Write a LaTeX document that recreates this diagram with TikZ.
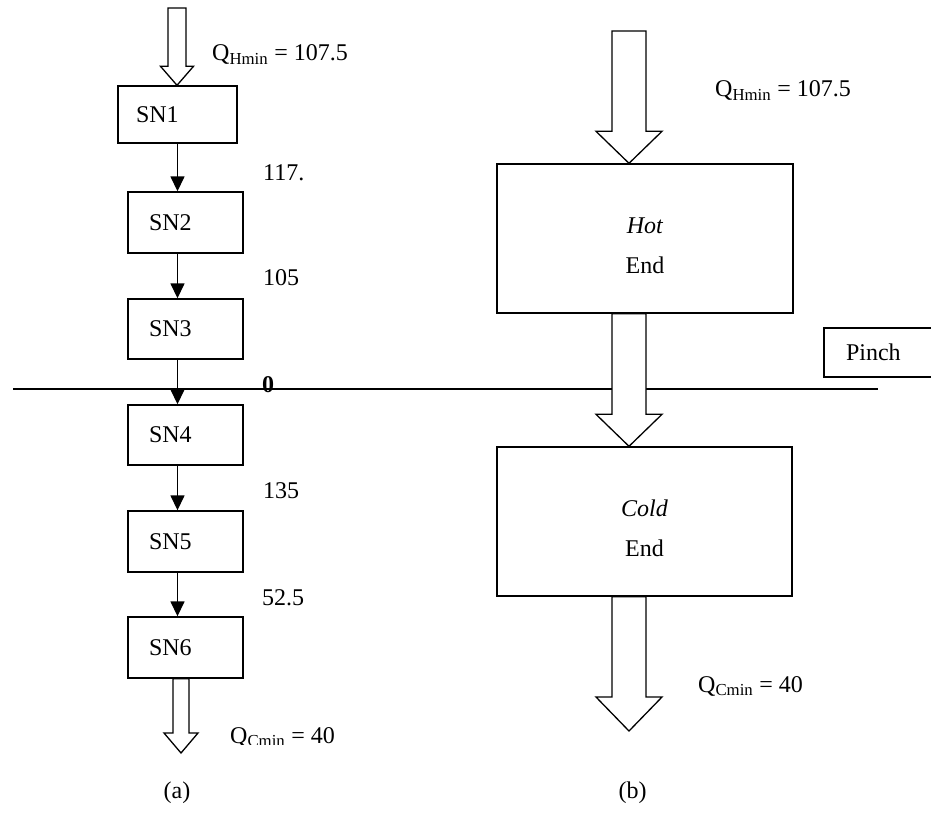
\documentclass[tikz,border=0pt]{standalone}
\usepackage{fontspec}
\setmainfont{Liberation Serif}
\usepackage{tikz}
\usetikzlibrary{arrows.meta,calc}
\definecolor{pen}{RGB}{0,0,0}
% hollow block arrow pointing down: tail, tip, half shaft, half head, head length
\def\fatarrow#1#2#3#4#5{%
  \draw[pen, line width=1.3pt, fill=white] let \p1=(#1), \p2=(#2) in
    (\x2,\y2) -- (\x2-#4pt,\y2+#5pt) -- (\x2-#3pt,\y2+#5pt) -- (\x2-#3pt,\y1)
    -- (\x2+#3pt,\y1) -- (\x2+#3pt,\y2+#5pt) -- (\x2+#4pt,\y2+#5pt) -- cycle;}

\begin{document}
\begin{tikzpicture}[x=1pt, y=-1pt, line join=miter,
    font=\fontsize{24}{29}\selectfont,
    snbox/.style={draw=pen, line width=1.4pt, minimum height=60pt,
                  text width=73pt, inner xsep=21pt, align=left},
    endbox/.style={draw=pen, line width=1.4pt, minimum width=296pt,
                   minimum height=149pt, align=center,
                   font=\fontsize{24}{40}\selectfont},
    flow/.style={draw=pen, line width=1.5pt, -{Triangle[length=15pt,width=14pt]}},
    value/.style={anchor=west, inner sep=0pt},
    qlabel/.style={anchor=base west, inner sep=0pt}]

  \useasboundingbox (0,0) rectangle (931,814);
  \clip (0,0) rectangle (931,814);

  %========= pinch line =========
  \coordinate (pinchL) at (13,389);
  \coordinate (pinchR) at (878,389);
  \draw[pen, line width=1.4pt] (pinchL) -- (pinchR);
  \node[font=\bfseries\fontsize{24}{29}\selectfont, inner sep=0pt] (zero) at (268,385) {0};
  \node[snbox, text width=93pt, inner xsep=22pt, minimum height=49pt] (pinch) at (892.5,352.5) {Pinch};

  %========= (a) subnetworks =========
  \node[snbox, text width=83pt, inner xsep=18pt, minimum height=57pt] (sn1) at (177.5,114.5) {SN1};
  \node[snbox, minimum height=61pt] (sn2) at (185.5,222.5) {SN2};
  \node[snbox] (sn3) at (185.5,329) {SN3};
  \node[snbox] (sn4) at (185.5,435) {SN4};
  \node[snbox, minimum height=61pt] (sn5) at (185.5,541.5) {SN5};
  \node[snbox, minimum height=61pt] (sn6) at (185.5,647.5) {SN6};

  \draw[flow] (sn1.south) -- (sn2.north -| sn1.south);
  \draw[flow] (sn2.south -| sn1.south) -- (sn3.north -| sn1.south);
  \draw[flow] (sn3.south -| sn1.south) -- (sn4.north -| sn1.south);
  \draw[flow] (sn4.south -| sn1.south) -- (sn5.north -| sn1.south);
  \draw[flow] (sn5.south -| sn1.south) -- (sn6.north -| sn1.south);

  \coordinate (inL) at (177,8);
  \coordinate (outL) at (181,753);
  \fatarrow{inL}{sn1.north -| inL}{9}{16.5}{19}
  \fatarrow{sn6.south -| outL}{outL}{8}{17}{20}

  \node[value] (h12) at (263,173) {117.};
  \node[value] (h23) at (263,278) {105};
  \node[value] (h45) at (263,491) {135};
  \node[value] (h56) at (262,598) {52.5};
  \node[qlabel] (qhL) at (212,60.5) {Q\textsubscript{Hmin} = 107.5};
  \begin{scope}
    \clip (200,700) rectangle (380,744.5);
    \node[qlabel] (qcL) at (230,743) {Q\textsubscript{Cmin} = 40};
  \end{scope}
  \node (capa) at (177,793) {(a)};

  %========= (b) hot and cold ends =========
  \node[endbox] (hot) at (645,238.5) {\rule{0pt}{31pt}\textit{Hot}\\End};
  \node[endbox, minimum width=295pt] (cold) at (644.5,521.5) {\rule{0pt}{31pt}\textit{Cold}\\End};

  \coordinate (inR) at (629,31);
  \coordinate (outR) at (629,731);
  \fatarrow{inR}{hot.north -| inR}{17}{33}{32}
  \fatarrow{hot.south -| inR}{cold.north -| inR}{17}{33}{32}
  \fatarrow{cold.south -| inR}{outR}{17}{33}{34}

  \node[qlabel] (qhR) at (715,96.5) {Q\textsubscript{Hmin} = 107.5};
  \node[qlabel] (qcR) at (698,692) {Q\textsubscript{Cmin} = 40};
  \node (capb) at (632.5,793) {(b)};
\end{tikzpicture}
\end{document}
